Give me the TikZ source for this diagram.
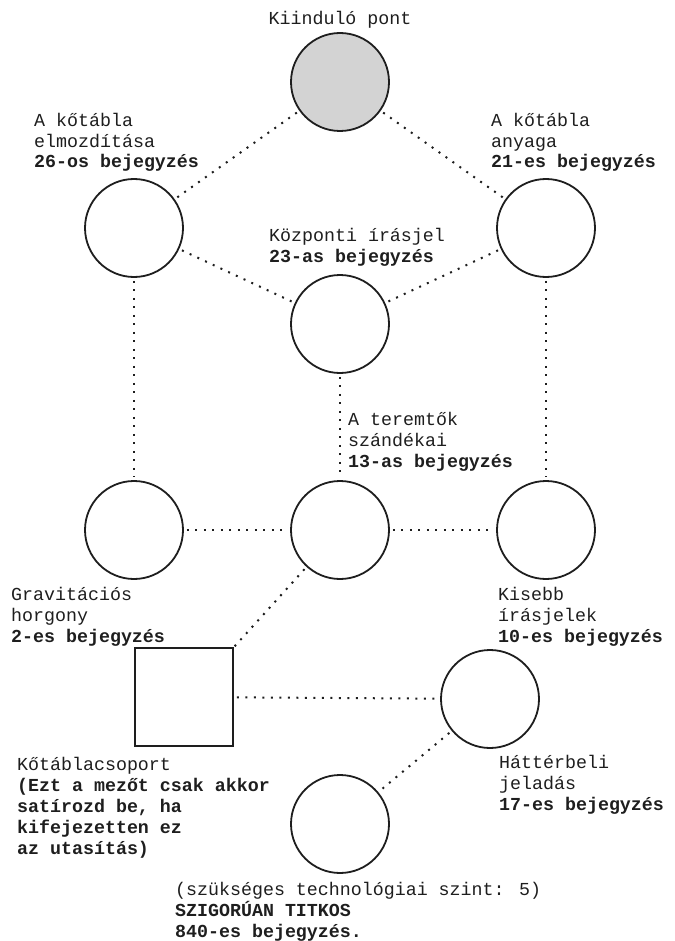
\documentclass[tikz,border=0pt]{standalone}
\usepackage{fontspec}
\setmainfont{Liberation Mono}
\definecolor{startgray}{RGB}{211,211,211}
\definecolor{ink}{RGB}{30,30,30}
\begin{document}
\begin{tikzpicture}[x=1pt,y=-1pt,
    spot/.style={circle,draw=ink,line width=1.8pt,minimum size=98pt,inner sep=0pt},
    tablet/.style={rectangle,draw=ink,line width=1.8pt,minimum size=98pt,inner sep=0pt},
    link/.style={draw=ink,line width=2pt,dash pattern=on 2pt off 6.5pt,shorten <=3pt,shorten >=3pt},
    note/.style={anchor=base west,inner sep=0pt,align=left,text=ink,font=\fontsize{18.3}{20.8}\selectfont}]
    \useasboundingbox (0,0) rectangle (674,941);
    % pontok
    \node[spot,fill=startgray] (start) at (340,82) {};
    \node[spot] (elmozd) at (134,228) {};
    \node[spot] (anyag) at (546,228) {};
    \node[spot] (kozp) at (340,324) {};
    \node[spot] (grav) at (134,530) {};
    \node[spot] (teremt) at (340,530) {};
    \node[spot] (kisebb) at (546,530) {};
    \node[tablet] (csoport) at (184,697) {};
    \node[spot] (hatter) at (490,699) {};
    \node[spot] (titkos) at (340,824) {};
    % kapcsolatok
    \foreach \a/\b in {start/elmozd, start/anyag, elmozd/kozp, anyag/kozp,
        elmozd/grav, anyag/kisebb, kozp/teremt, grav/teremt, teremt/kisebb,
        csoport/hatter, hatter/titkos} {
        \draw[link] (\a) -- (\b);
    }
    \draw[link,shorten >=1pt] (teremt) -- (csoport.north east);
    % feliratok (base = utolso sor alapvonala)
    \node[note,anchor=base] (startlbl) at (340,25) {Kiinduló pont};
    \node[note] (elmozdlbl) at (34,168) {A kőtábla\\elmozdítása\\\textbf{26-os bejegyzés}};
    \node[note] (anyaglbl) at (491,168) {A kőtábla\\anyaga\\\textbf{21-es bejegyzés}};
    \node[note] (kozplbl) at (269,262) {Központi írásjel\\\textbf{23-as bejegyzés}};
    \node[note] (teremtlbl) at (348,467) {A teremtők\\szándékai\\\textbf{13-as bejegyzés}};
    \node[note] (gravlbl) at (11,642) {Gravitációs\\horgony\\\textbf{2-es bejegyzés}};
    \node[note] (kisebblbl) at (498,642) {Kisebb\\írásjelek\\\textbf{10-es bejegyzés}};
    \node[note] (csoportlbl) at (17,854) {Kőtáblacsoport\\\textbf{(Ezt a mezőt csak akkor}\\\textbf{satírozd be, ha}\\\textbf{kifejezetten ez}\\\textbf{az utasítás)}};
    \node[note] (hatterlbl) at (499,810) {Háttérbeli\\jeladás\\\textbf{17-es bejegyzés}};
    \node[note] (titkoslbl) at (175,937) {(szükséges technológiai szint: 5)\\\textbf{SZIGORÚAN TITKOS}\\\textbf{840-es bejegyzés.}};
\end{tikzpicture}
\end{document}
